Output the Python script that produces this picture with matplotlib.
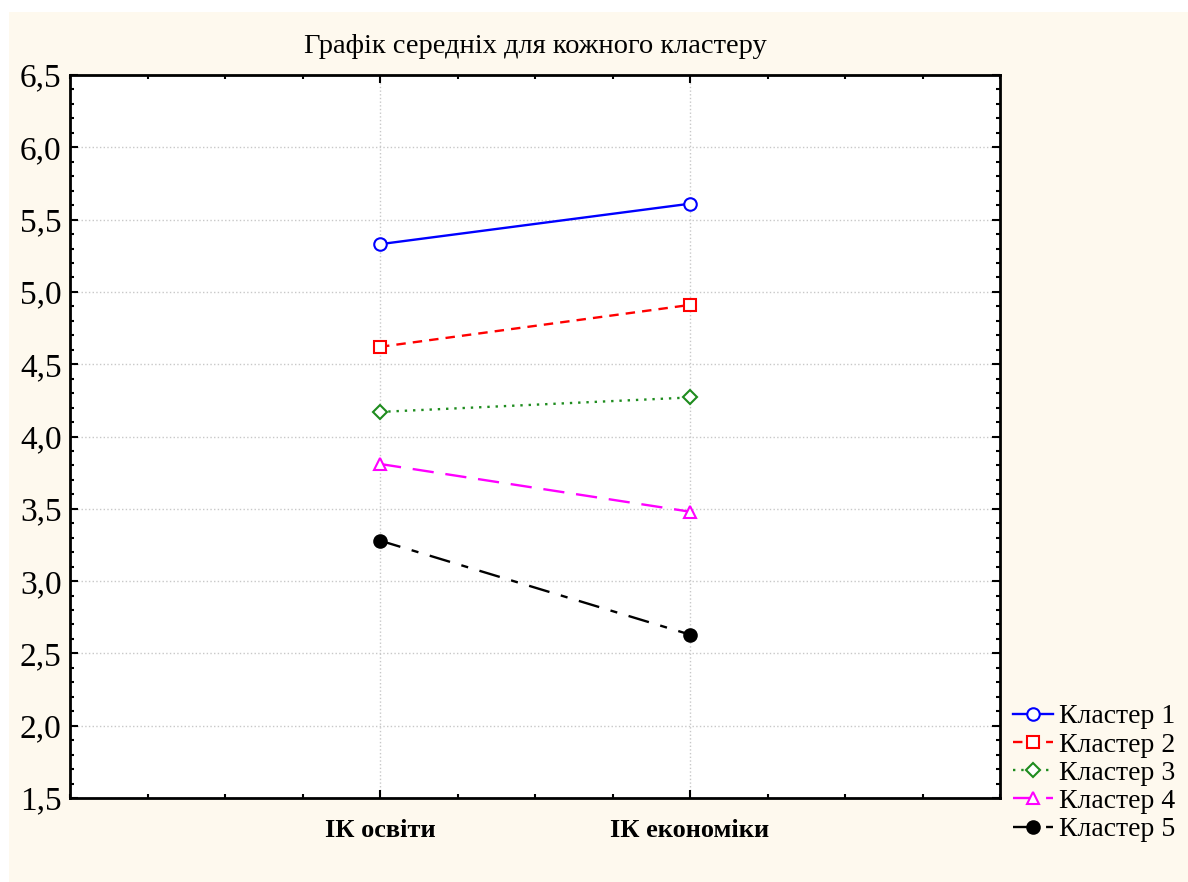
import numpy as np
import matplotlib
matplotlib.use('Agg')
import matplotlib.pyplot as plt
import matplotlib.ticker as mticker
from matplotlib.patches import Rectangle

# Середні значення для кожного кластеру
categories = ['ІК освіти', 'ІК економіки']
cluster_names = ['Кластер 1', 'Кластер 2', 'Кластер 3', 'Кластер 4', 'Кластер 5']
cluster1 = [5.33, 5.61]
cluster2 = [4.62, 4.91]
cluster3 = [4.17, 4.27]
cluster4 = [3.81, 3.48]
cluster5 = [3.28, 2.63]
y_ticks = [1.5, 2.0, 2.5, 3.0, 3.5, 4.0, 4.5, 5.0, 5.5, 6.0, 6.5]

plt.rcParams['font.family'] = ['Liberation Serif', 'DejaVu Serif']

fig = plt.figure(figsize=(11.88, 8.82), dpi=100, facecolor='white')
# cream background panel
fig.patches.append(Rectangle((9 / 1188, 0), 1 - 9 / 1188, 1 - 12 / 882,
                             transform=fig.transFigure, facecolor='#fef9ee',
                             edgecolor='none', zorder=-10))

ax = fig.add_axes([70 / 1188, 1 - 798 / 882, 930 / 1188, 723 / 882])
ax.set_facecolor('white')

x = np.arange(1, len(categories) + 1)
styles = [
    dict(color='#0000ff', linestyle='-', marker='o', markerfacecolor='white'),
    dict(color='#ff0000', linestyle=(0, (4, 3)), marker='s', markerfacecolor='white'),
    dict(color='#1e8c1e', linestyle=(0, (1, 2.5)), marker='D', markerfacecolor='white', markersize=7),
    dict(color='#ff00ff', linestyle=(0, (9, 5)), marker='^', markerfacecolor='white'),
    dict(color='black', linestyle=(0, (9, 5, 3, 5)), marker='o', markerfacecolor='black'),
]
for vals, name, st in zip([cluster1, cluster2, cluster3, cluster4, cluster5], cluster_names, styles):
    kw = dict(markersize=9, linewidth=1.7, markeredgewidth=1.5)
    kw.update(st)
    ax.plot(x, vals, label=name, **kw)

ax.set_xlim(0, 3)
ax.set_ylim(1.5, 6.5)
ax.set_xticks(x)
ax.set_xticklabels(categories, fontsize=19, fontweight='bold')
ax.xaxis.set_minor_locator(mticker.MultipleLocator(0.25))
ax.set_yticks(y_ticks)
ax.set_yticklabels([('%.1f' % v).replace('.', ',') for v in y_ticks], fontsize=24)
ax.yaxis.set_minor_locator(mticker.MultipleLocator(0.1))

ax.tick_params(which='both', direction='in', top=True, right=True, width=1.5)
ax.tick_params(which='major', length=6)
ax.tick_params(which='minor', length=3)
ax.tick_params(axis='y', which='major', pad=6)
ax.tick_params(axis='x', which='major', pad=15)
for sp in ax.spines.values():
    sp.set_linewidth(2)

ax.grid(True, which='major', color='#c8c8c8', linestyle=':', linewidth=1)
ax.set_axisbelow(True)

ax.set_title('Графік середніх для кожного кластеру', fontsize=20.5, pad=16)

fig.legend(*ax.get_legend_handles_labels(), loc='upper left',
           bbox_to_anchor=(1013 / 1188, 1 - 704 / 882), frameon=False,
           fontsize=20, handlelength=1.45, handletextpad=0.2, labelspacing=0.1,
           borderaxespad=0, borderpad=0)

fig.savefig('out.png', dpi=100, facecolor=fig.get_facecolor())
